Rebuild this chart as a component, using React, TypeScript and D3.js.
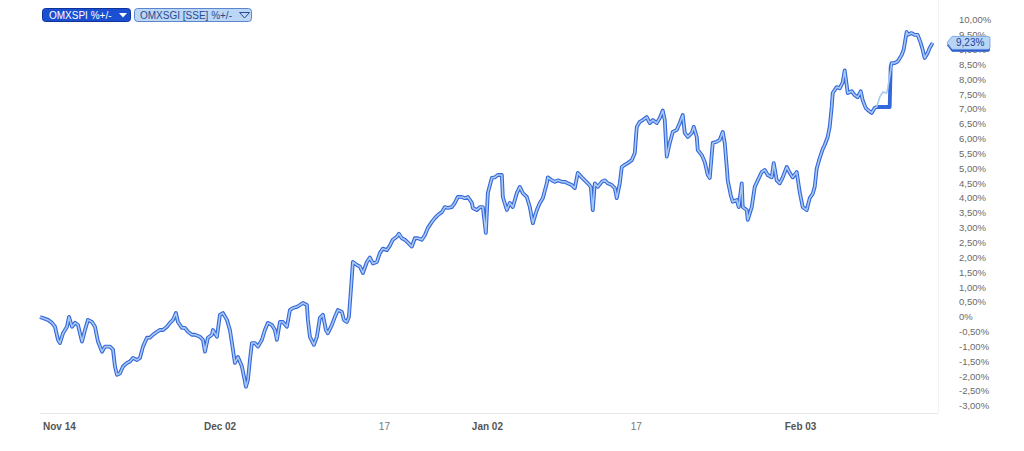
import React from "react";
import * as d3 from "d3";

// time axis is in trading-session steps (0 = Nov 14 open)
const commonPoints: [number, number][] = [
  [0,0],[2.4,-0.1],[3.6,-0.2],[4.5,-0.33],[5.4,-0.77],[6,-0.88],[6.9,-0.55],[8.1,-0.33],[8.7,0],[9.6,-0.33],[10.5,-0.2],[11.4,-0.27],[12.6,-0.83],[13.5,-0.44],[14.4,-0.1],[15.6,-0.17],[16.5,-0.33],[17.4,-0.83],[18.6,-1.17],[19.5,-1.0],[21,-1.0],[21.9,-1.1],[22.5,-1.67],[23.1,-1.95],[24,-1.9],[24.9,-1.67],[26.1,-1.55],[27,-1.5],[27.9,-1.38],[29.1,-1.45],[30,-1.38],[30.9,-1.0],[32.1,-0.7],[33,-0.7],[33.9,-0.6],[35.1,-0.5],[36,-0.44],[36.9,-0.44],[38.1,-0.33],[39,-0.2],[39.9,-0.1],[40.8,0.13],[41.4,-0.17],[42.6,-0.37],[43.5,-0.37],[44.4,-0.5],[45.6,-0.6],[46.5,-0.6],[48,-0.67],[48.9,-0.77],[49.5,-1.17],[50.4,-0.7],[51.6,-0.6],[51.9,-0.44],[53.1,-0.67],[54,0.07],[54.9,0.13],[56.1,-0.1],[57,-0.44],[57.9,-1.1],[58.5,-1.55],[59.4,-1.35],[60.6,-1.67],[61.2,-2.0],[61.8,-2.35],[62.4,-2.12],[63,-1.45],[63.6,-0.88],[64.5,-0.88],[65.4,-1.0],[66.6,-0.77],[67.5,-0.44],[68.4,-0.2],[69.6,-0.27],[70.5,-0.44],[71.1,-0.77],[72,-0.17],[72.9,-0.17],[74.1,-0.33],[75,0.23],[75.9,0.3],[77.1,0.34],[78,0.4],[78.9,0.47],[80.1,0.4],[80.4,-0.1],[81,-0.67],[82.2,-0.94],[83.1,-0.67],[84,-0.03],[84.9,0.07],[85.8,-0.44],[86.4,-0.55],[87.6,-0.27],[88.5,0],[89.4,0.23],[90.6,0.17],[91.2,-0.1],[92.1,-0.17],[92.7,0],[93.3,0.9],[93.9,1.85],[95.1,1.75],[96,1.7],[96.9,1.48],[98.1,1.85],[99,2.0],[99.9,1.8],[101.1,1.85],[102,2.15],[102.9,2.3],[104.1,2.25],[105,2.4],[105.9,2.6],[107.1,2.7],[107.7,2.8],[108.6,2.65],[109.5,2.6],[110.4,2.5],[111.6,2.37],[112.5,2.65],[113.4,2.65],[114.6,2.6],[115.5,2.75],[116.4,3.0],[117.6,3.2],[118.5,3.33],[119.4,3.43],[120.6,3.53],[121.5,3.7],[122.4,3.67],[123.6,3.7],[124.5,3.84],[125.4,4.04],[126.6,4.04],[127.5,4.0],[128.4,4.04],[129.6,3.84],[129.9,3.67],[131.1,3.6],[132,3.7],[132.9,3.7],[133.8,2.83],[134.4,4.17],[135.6,4.68],[136.5,4.7],[137.4,4.78],[138.6,4.78],[138.9,4.04],[140.1,3.6],[141,3.84],[141.9,3.7],[143.1,4.17],[144,4.38],[144.9,4.17],[146.1,4.04],[147,3.7],[147.9,3.16],[149.1,3.6],[150,3.84],[150.9,4.0],[152.1,4.5],[152.4,4.7],[153.6,4.6],[154.5,4.55],[155.4,4.6],[156.6,4.55],[157.5,4.55],[158.4,4.5],[159.6,4.44],[160.5,4.34],[161.4,4.85],[162.6,4.7],[163.5,4.6],[164.4,4.5],[165.3,4.38],[165.9,3.6],[166.5,4.5],[167.4,4.38],[168.6,4.55],[169.5,4.6],[170.4,4.5],[171.6,4.44],[172.5,4.34],[173.1,4.0],[174,4.5],[174.6,5.05],[175.5,5.12],[176.4,5.18],[177.6,5.28],[178.5,5.52],[179.1,6.4],[180,6.57],[180.9,6.63],[182.1,6.73],[183,6.53],[183.9,6.63],[185.1,6.53],[186,6.7],[186.9,6.95],[187.5,6.63],[188.1,5.4],[189,5.86],[189.9,6.23],[191.1,6.3],[192,6.53],[192.9,6.8],[193.5,6.2],[194.4,6.06],[195.6,6.2],[196.2,6.4],[197.1,6.06],[197.4,5.62],[198.6,5.45],[199.5,5.22],[200.4,4.78],[201,4.68],[201.9,5.86],[203.1,5.9],[204,5.96],[204.9,6.23],[205.5,5.86],[206.1,5.05],[206.4,4.6],[207.3,4.1],[207.9,3.88],[209.1,3.94],[209.7,3.7],[210.6,4.5],[210.9,3.7],[212.1,3.6],[212.4,3.27],[213.6,3.7],[214.5,4.38],[215.4,4.6],[216.6,4.88],[217.5,4.95],[218.4,4.78],[219.6,4.7],[220.2,5.18],[221.1,4.6],[222,4.5],[222.9,4.7],[224.1,5.05],[225,4.85],[225.9,4.7],[227.1,4.88],[228,4.2],[228.9,3.7],[230.1,3.6],[231,4.0],[231.9,4.15],[232.5,4.38],[233.1,5.0],[234,5.35],[234.9,5.65],[235.5,5.79],[236.4,6.06],[237,6.4],[237.6,7.07],[237.9,7.54],[239.1,7.74],[240,7.7],[240.9,7.9],[241.5,8.3],[242.1,7.8],[242.4,7.54],[243.6,7.6],[244.5,7.47],[245.4,7.4],[246.3,7.6],[246.9,7.3],[247.8,7.04],[248.4,6.97],[249.6,6.87],[250.5,7.04],[251.1,7.07]
];
const spiGapPoints: [number, number][] = [[255, 7.07], [255.3, 8.42]];
const sgiGapPoints: [number, number][] = [[252, 7.4], [252.9, 7.57], [254.1, 7.54], [254.4, 7.7], [255.3, 8.3]];
const tailPoints: [number, number][] = [
  [255.6,8.55],[256.5,8.55],[257.4,8.6],[258.6,8.82],[259.2,9.0],[260.1,9.6],[260.4,9.5],[261.6,9.56],[262.5,9.5],[263.4,9.5],[264.3,9.23],[264.9,9.0],[265.5,8.72],[266.4,8.89],[267,9.06],[267.9,9.23]
];

const seriesNames = ["OMXSPI %+/-", "OMXSGI [SSE] %+/-"];
const lastValueLabel = "9,23%";
const xTicks: { t: number; label: string; major: boolean }[] = [
  { t: 0, label: "Nov 14", major: true },
  { t: 48.3, label: "Dec 02", major: true },
  { t: 100.8, label: "17", major: false },
  { t: 128.7, label: "Jan 02", major: true },
  { t: 176.4, label: "17", major: false },
  { t: 222.6, label: "Feb 03", major: true },
];
const yTicks = d3.range(-3, 10.001, 0.5);

const omxspi = [...commonPoints, ...spiGapPoints, ...tailPoints];
const omxsgi = [...commonPoints, ...sgiGapPoints, ...tailPoints];

const W = 1024, H = 451;
const x = d3.scaleLinear().domain([0, 268]).range([40, 933]);
const y = d3.scaleLinear().domain([-3, 10]).range([406, 20]);

const fmt = (v: number) => {
  const r = Math.round(v * 100) / 100;
  if (r === 0) return "0%";
  return r.toFixed(2).replace(".", ",") + "%";
};

export default function App() {
  const line = d3.line<[number, number]>().x(d => x(d[0])).y(d => y(d[1])).curve(d3.curveLinear);
  const font = "Arial, 'Liberation Sans', sans-serif";
  const lastV = tailPoints[tailPoints.length - 1][1];
  const ly = y(lastV);
  const labelPath = (cy: number) =>
    `M947,${cy} L952,${cy - 6.5} L988,${cy - 6.5} Q990,${cy - 6.5} 990,${cy - 4.5} L990,${cy + 4.5} Q990,${cy + 6.5} 988,${cy + 6.5} L952,${cy + 6.5} Z`;
  return (
    <svg width={W} height={H} style={{ position: "absolute", left: 0, top: 0, background: "#fff" }} fontFamily={font}>
      <rect x={0} y={0} width={W} height={H} fill="#fff" />
      <line x1={40} x2={938} y1={413.5} y2={413.5} stroke="#e6e6e6" strokeWidth={1} />
      <line x1={938.5} x2={938.5} y1={0} y2={413} stroke="#f3f3f3" strokeWidth={1} />

      {yTicks.map((v, i) => (
        <text key={i} x={959} y={y(v)} dy="0.35em" fontSize={9.5} fill="#6a6a6a">{fmt(v)}</text>
      ))}

      {xTicks.map((tk, i) => (
        <text key={i} x={x(tk.t) + 3} y={430} fontSize={10} fontWeight={tk.major ? "bold" : "normal"} fill={tk.major ? "#555" : "#777"}>{tk.label}</text>
      ))}

      <path d={line(omxspi) || ""} fill="none" stroke="#3467da" strokeWidth={3.8} strokeLinejoin="round" />
      <path d={line(omxsgi) || ""} fill="none" stroke="#a9c9f3" strokeWidth={1.6} strokeLinejoin="round" />

      <path d={labelPath(ly + 2.5)} fill="#2a5bd0" />
      <path d={labelPath(ly)} fill="#b8d5f6" stroke="#6f9ce0" strokeWidth={0.8} />
      <text x={956} y={ly} dy="0.35em" fontSize={10} fill="#1d3f9a">{lastValueLabel}</text>

      <rect x={42.5} y={8.5} width={88} height={13} rx={3} fill="#1b4fd1" stroke="#10339a" />
      <text x={49} y={18.5} fontSize={10} fill="#fff">{seriesNames[0]}</text>
      <path d="M119,13 L127,13 L123,17.5 Z" fill="#fff" />
      <rect x={134.5} y={8.5} width={117} height={13} rx={3} fill="#bcd6f5" stroke="#5b86cf" />
      <text x={140} y={18.5} fontSize={10} fill="#2a4a8f">{seriesNames[1]}</text>
      <path d="M239.5,12.5 L249.5,12.5 L244.5,18 Z" fill="none" stroke="#2a4a8f" strokeWidth={1} />
    </svg>
  );
}
